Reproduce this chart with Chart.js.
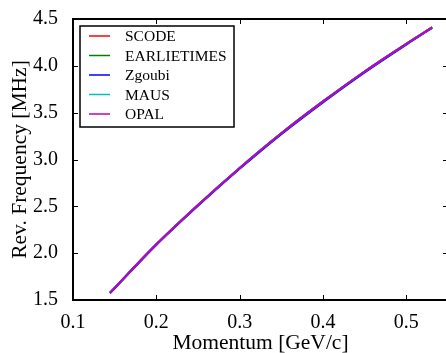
<!DOCTYPE html>
<html>
<head>
<meta charset="utf-8">
<script src="https://cdn.jsdelivr.net/npm/chart.js@4/dist/chart.umd.min.js"></script>
<style>
  html, body { margin: 0; padding: 0; background: #fff; overflow: hidden; }
  #wrap { position: relative; width: 452px; height: 353px; }
</style>
</head>
<body>
<div id="wrap"><canvas id="freqChart"></canvas></div>
<script>
// momentum in GeV/c
const momentum = [0.1444, 0.2, 0.25, 0.3, 0.35, 0.4, 0.45, 0.5, 0.531];
// revolution frequency in MHz per code
const scodeFreq       = [1.578, 2.095, 2.515, 2.910, 3.280, 3.620, 3.940, 4.235, 4.410];
const earlietimesFreq = [1.578, 2.095, 2.515, 2.910, 3.280, 3.620, 3.940, 4.235, 4.410];
const zgoubiFreq      = [1.572, 2.087, 2.505, 2.900, 3.270, 3.610, 3.930, 4.227, 4.404];
const mausFreq        = [1.578, 2.095, 2.515, 2.910, 3.280, 3.620, 3.940, 4.235, 4.410];
const opalFreq        = [1.578, 2.095, 2.515, 2.910, 3.280, 3.620, 3.940, 4.235, 4.410];

const codeNames = ['SCODE', 'EARLIETIMES', 'Zgoubi', 'MAUS', 'OPAL'];
const codeColors = ['#ff0000', '#008000', '#0000ff', '#00bfbf', '#bf00bf'];
const codeSeries = [scodeFreq, earlietimesFreq, zgoubiFreq, mausFreq, opalFreq];

const xTickValues = [0.1, 0.2, 0.3, 0.4, 0.5];
const yTickValues = [1.5, 2.0, 2.5, 3.0, 3.5, 4.0, 4.5];

const serif = '"Liberation Serif", "DejaVu Serif", serif';

// matplotlib-like frame with inward ticks on all four sides
const framePlugin = {
    id: 'frame',
    afterDatasetsDraw(chart) {
        const ctx = chart.ctx;
        const a = chart.chartArea;
        const xs = chart.scales.x, ys = chart.scales.y;
        ctx.save();
        ctx.strokeStyle = '#000';
        ctx.lineWidth = 1;
        ctx.beginPath();
        xs.ticks.forEach(t => {
            const px = Math.round(xs.getPixelForValue(t.value)) + 0.5;
            ctx.moveTo(px, a.bottom); ctx.lineTo(px, a.bottom - 5);
            ctx.moveTo(px, a.top); ctx.lineTo(px, a.top + 5);
        });
        ys.ticks.forEach(t => {
            const py = Math.round(ys.getPixelForValue(t.value)) + 0.5;
            ctx.moveTo(a.left, py); ctx.lineTo(a.left + 5, py);
            ctx.moveTo(a.right, py); ctx.lineTo(a.right - 5, py);
        });
        ctx.stroke();
        ctx.lineWidth = 2;
        ctx.strokeRect(a.left, a.top, a.right - a.left, a.bottom - a.top);
        ctx.restore();
    }
};

// boxed legend inside the upper left of the axes
const boxLegendPlugin = {
    id: 'boxLegend',
    afterDraw(chart) {
        const ctx = chart.ctx;
        const a = chart.chartArea;
        const sets = chart.data.datasets;
        const left = a.left + 7, top = a.top + 7;
        const w = 154, rowH = 19.5, h = 101;
        ctx.save();
        ctx.fillStyle = '#fff';
        ctx.fillRect(left, top, w, h);
        ctx.strokeStyle = '#000';
        ctx.lineWidth = 1.5;
        ctx.strokeRect(left, top, w, h);
        ctx.font = '15.5px ' + serif;
        ctx.textBaseline = 'middle';
        ctx.textAlign = 'left';
        sets.forEach((ds, i) => {
            const y = top + 10 + i * rowH;
            ctx.strokeStyle = ds.borderColor;
            ctx.lineWidth = 1.5;
            ctx.beginPath();
            ctx.moveTo(left + 9, y);
            ctx.lineTo(left + 30, y);
            ctx.stroke();
            ctx.fillStyle = '#000';
            ctx.fillText(ds.label, left + 45, y + 1);
        });
        ctx.restore();
    }
};

const datasets = codeNames.map((name, i) => ({
    label: name,
    data: momentum.map((p, j) => ({ x: p, y: codeSeries[i][j] })),
    borderColor: codeColors[i],
    backgroundColor: codeColors[i],
    borderWidth: 2,
    pointRadius: 0,
    fill: false,
    cubicInterpolationMode: 'monotone',
    order: codeNames.length - i
}));

new Chart(document.getElementById('freqChart'), {
    type: 'line',
    data: { datasets: datasets },
    options: {
        responsive: true,
        maintainAspectRatio: false,
        animation: false,
        layout: { padding: { top: 19, right: 4, left: 0, bottom: 0 } },
        plugins: {
            legend: { display: false },
            tooltip: { enabled: false }
        },
        scales: {
            x: {
                type: 'linear',
                min: 0.1,
                max: 0.55,
                afterBuildTicks: (scale) => { scale.ticks = xTickValues.map(v => ({ value: v })); },
                afterFit: (scale) => { scale.height = 53; },
                grid: { display: false },
                border: { display: false },
                ticks: {
                    color: '#000',
                    padding: 3,
                    maxRotation: 0,
                    font: { family: serif, size: 20 },
                    callback: (v) => String(+v.toFixed(1))
                },
                title: {
                    display: true,
                    text: 'Momentum [GeV/c]',
                    color: '#000',
                    font: { family: serif, size: 21.5, lineHeight: 0.9 },
                    padding: { top: 0, bottom: 0 }
                }
            },
            y: {
                type: 'linear',
                min: 1.5,
                max: 4.5,
                afterBuildTicks: (scale) => { scale.ticks = yTickValues.map(v => ({ value: v })); },
                afterFit: (scale) => { scale.width = 73; },
                grid: { display: false },
                border: { display: false },
                ticks: {
                    color: '#000',
                    padding: 7,
                    font: { family: serif, size: 20 },
                    callback: (v) => v.toFixed(1)
                },
                title: {
                    display: true,
                    text: 'Rev. Frequency [MHz]',
                    color: '#000',
                    font: { family: serif, size: 21.5 },
                    padding: { top: 7, bottom: 0 }
                }
            }
        }
    },
    plugins: [framePlugin, boxLegendPlugin]
});
</script>
</body>
</html>
